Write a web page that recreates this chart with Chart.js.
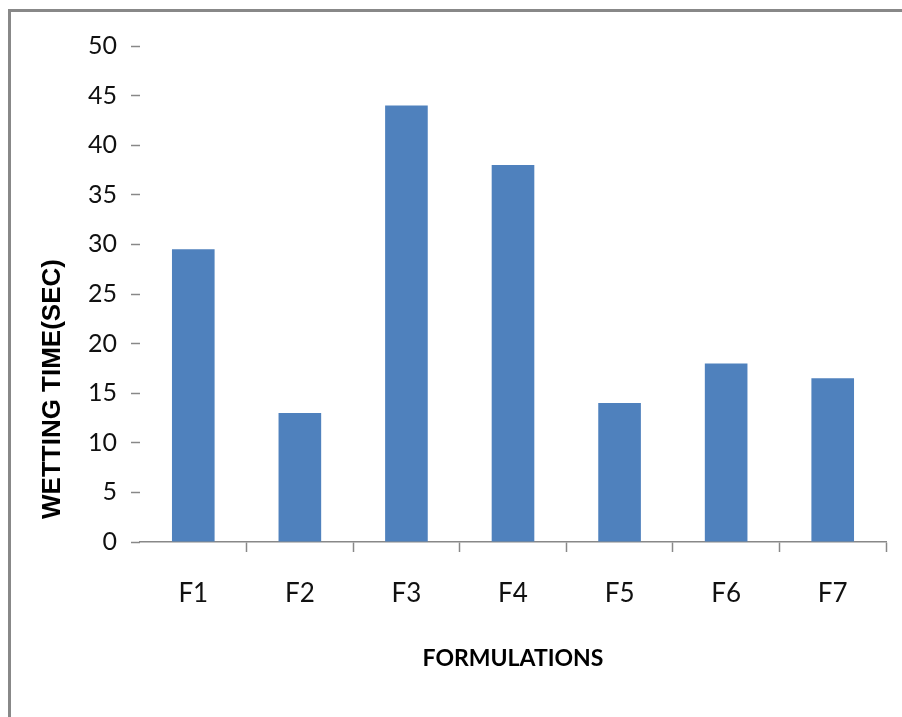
<!DOCTYPE html>
<html>
<head>
<meta charset="utf-8">
<title>Wetting time of formulations</title>
<script src="https://cdn.jsdelivr.net/npm/chart.js@4"></script>
<style>
  html, body { margin: 0; padding: 0; background: #ffffff; }
  #wrap { position: relative; width: 902px; height: 717px; overflow: hidden; }
  #frame {
    position: absolute; left: 8px; top: 9px; width: 1000px; height: 1000px;
    border-top: 3px solid #888888; border-left: 3px solid #888888;
    pointer-events: none;
  }
  canvas { position: absolute; left: 0; top: 0; }
</style>
</head>
<body>
<div id="wrap">
  <canvas id="chart" width="902" height="717"></canvas>
  <div id="frame"></div>
</div>
<script>
// Wetting time (seconds) for each formulation
const categories = ['F1', 'F2', 'F3', 'F4', 'F5', 'F6', 'F7'];
const wettingTime = [29.5, 13, 44, 38, 14, 18, 16.5];
const yTicks = [0, 5, 10, 15, 20, 25, 30, 35, 40, 45, 50];

const xTitle = 'FORMULATIONS';
const yTitle = 'WETTING TIME(SEC)';

const labelFont = "Lato, 'DejaVu Sans Condensed', sans-serif";
const wideFont = "'Liberation Sans', 'DejaVu Sans', sans-serif";

// Axis titles placed freely around the plot
const axisTitles = {
  id: 'axisTitles',
  afterDraw(chart) {
    const ctx = chart.ctx;
    ctx.save();
    ctx.fillStyle = '#000000';
    ctx.textAlign = 'center';
    ctx.textBaseline = 'middle';
    ctx.font = 'bold 23px ' + labelFont;
    ctx.fillText(xTitle, 513, 659);
    ctx.translate(53, 389);
    ctx.rotate(-Math.PI / 2);
    ctx.font = 'bold 26px ' + wideFont;
    ctx.fillText(yTitle, 0, 0);
    ctx.restore();
  }
};

new Chart(document.getElementById('chart'), {
  type: 'bar',
  data: {
    labels: categories,
    datasets: [{
      data: wettingTime,
      backgroundColor: '#4F81BD',
      borderWidth: 0,
      barPercentage: 0.4,
      categoryPercentage: 1.0
    }]
  },
  options: {
    responsive: false,
    animation: false,
    devicePixelRatio: 1,
    layout: { padding: { left: 0, top: 46, right: 16, bottom: 0 } },
    plugins: {
      legend: { display: false },
      tooltip: { enabled: false }
    },
    scales: {
      x: {
        afterFit(scale) { scale.height = 175; },
        border: { display: true, color: '#888888', width: 1.5 },
        grid: {
          display: true,
          offset: true,
          drawOnChartArea: false,
          drawTicks: true,
          tickLength: 10,
          tickWidth: 1.5,
          tickColor: (c) => c.index === 0 ? 'rgba(0,0,0,0)' : '#888888'
        },
        ticks: {
          color: '#111111',
          font: { family: labelFont, size: 26 },
          padding: 26,
          maxRotation: 0
        }
      },
      y: {
        min: 0,
        max: 50,
        afterFit(scale) { scale.width = 140; },
        afterBuildTicks(scale) { scale.ticks = yTicks.map(v => ({ value: v })); },
        border: { display: false },
        grid: {
          display: true,
          drawOnChartArea: false,
          drawTicks: true,
          tickLength: 9,
          tickWidth: 1.5,
          tickColor: '#888888'
        },
        ticks: {
          color: '#111111',
          font: { family: labelFont, size: 25 },
          padding: 14
        }
      }
    }
  },
  plugins: [axisTitles]
});
</script>
</body>
</html>
